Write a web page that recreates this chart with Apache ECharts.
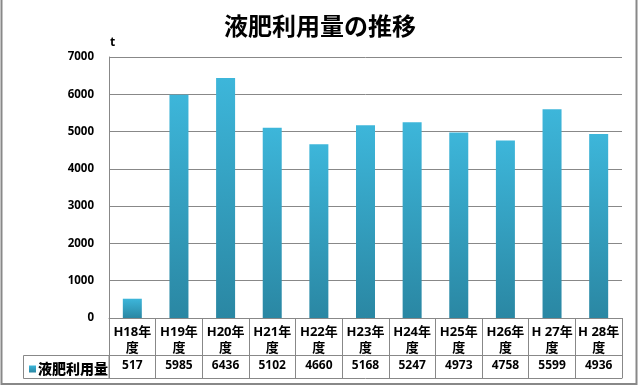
<!DOCTYPE html>
<html>
<head>
<meta charset="utf-8">
<script src="https://cdn.jsdelivr.net/npm/echarts@6/dist/echarts.min.js"></script>
<style>
html,body{margin:0;padding:0;background:#fff;}
#c{width:640px;height:390px;}
</style>
</head>
<body>
<div id="c"></div>
<script>
const titleText = '液肥利用量の推移';
const seriesName = '液肥利用量';
const unitName = 't';
const categories = ['H18年\n度','H19年\n度','H20年\n度','H21年\n度','H22年\n度','H23年\n度','H24年\n度','H25年\n度','H26年\n度','H 27年\n度','H 28年\n度'];
const values = [517, 5985, 6436, 5102, 4660, 5168, 5247, 4973, 4758, 5599, 4936];
const yTicks = [0, 1000, 2000, 3000, 4000, 5000, 6000, 7000];

const FONT = '"Open Sans", "Noto Sans CJK JP", sans-serif';
const JFONT = '"Noto Sans CJK JP", sans-serif';
const LINE = '#888888';
const barColor = new echarts.graphic.LinearGradient(0, 0, 0, 1, [
  {offset: 0, color: '#3db6da'},
  {offset: 1, color: '#2a87a3'}
]);

const chart = echarts.init(document.getElementById('c'), null, {renderer: 'canvas'});
chart.setOption({
  backgroundColor: '#ffffff',
  animation: false,
  title: {
    text: titleText,
    left: 'center',
    top: 9,
    textStyle: {fontFamily: JFONT, fontSize: 24, fontWeight: 'bold', color: '#000'}
  },
  legend: {
    data: [seriesName],
    left: 24,
    top: 357,
    icon: 'rect',
    itemWidth: 7,
    itemHeight: 7,
    itemGap: 2,
    selectedMode: false,
    textStyle: {fontFamily: JFONT, fontSize: 14, fontWeight: 900, color: '#000', padding: [0,0,0,-3]}
  },
  grid: {left: 109, right: 18, top: 57, bottom: 72},
  yAxis: {
    type: 'value',
    min: yTicks[0],
    max: yTicks[yTicks.length - 1],
    interval: yTicks[1] - yTicks[0],
    name: unitName,
    nameLocation: 'end',
    nameGap: 14,
    nameTextStyle: {fontFamily: FONT, fontSize: 12, fontWeight: 'bold', color: '#000', align: 'left', verticalAlign: 'middle', padding: [0,0,0,1]},
    axisLine: {show: true, lineStyle: {color: LINE, width: 1}},
    axisTick: {show: false},
    splitLine: {show: true, lineStyle: {color: LINE, width: 1}},
    axisLabel: {fontFamily: FONT, fontSize: 11.5, fontWeight: 'bold', color: '#000', margin: 15, formatter: v => String(v)}
  },
  xAxis: [
    {
      type: 'category',
      data: categories,
      position: 'bottom',
      axisLine: {show: true, lineStyle: {color: LINE, width: 1}},
      axisTick: {show: true, length: 60, lineStyle: {color: LINE, width: 1}},
      axisLabel: {interval: 0, fontFamily: FONT, fontSize: 13, fontWeight: 'bold', color: '#000', margin: 6, lineHeight: 16}
    },
    {
      type: 'category',
      data: values.map(String),
      position: 'bottom',
      offset: 37,
      axisLine: {show: true, lineStyle: {color: LINE, width: 1}},
      axisTick: {show: false},
      axisLabel: {interval: 0, fontFamily: FONT, fontSize: 12, fontWeight: 'bold', color: '#000', margin: 5}
    },
    {
      type: 'category',
      data: values.map(String),
      position: 'bottom',
      offset: 60,
      axisLine: {show: true, lineStyle: {color: LINE, width: 1}},
      axisTick: {show: false},
      axisLabel: {show: false}
    }
  ],
  series: [{
    name: seriesName,
    type: 'bar',
    xAxisIndex: 0,
    data: values,
    barWidth: 19,
    itemStyle: {color: barColor}
  }],
  graphic: [
    {type: 'rect', shape: {x: 23.5, y: 355.5, width: 85.5, height: 23}, style: {fill: 'none', stroke: LINE, lineWidth: 1}, silent: true},
    {type: 'rect', shape: {x: 1.5, y: -5, width: 635, height: 389}, style: {fill: 'none', stroke: LINE, lineWidth: 2}, silent: true}
  ]
});
</script>
</body>
</html>
